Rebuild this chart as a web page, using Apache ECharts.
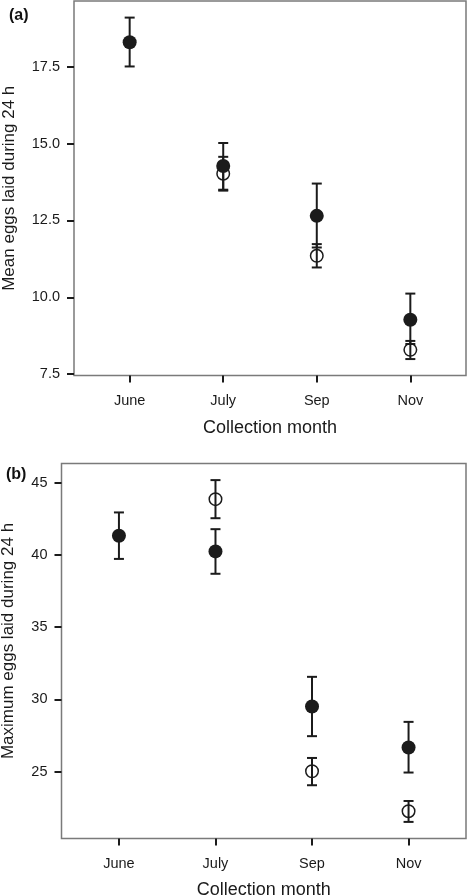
<!DOCTYPE html>
<html>
<head>
<meta charset="utf-8">
<script src="https://cdn.jsdelivr.net/npm/echarts@6/dist/echarts.min.js"></script>
<style>
html,body{margin:0;padding:0;background:#fff;}
#chart{width:467px;height:895px;}
</style>
</head>
<body>
<div id="chart"></div>
<script>
const categories = ['June', 'July', 'Sep', 'Nov'];
const catIndex = [0, 1, 2, 3];

// Panel (a): mean eggs laid during 24 h
const meanA_filled = [18.30, 14.27, 12.65, 9.27];
const lowA_filled  = [17.51, 13.50, 11.62, 8.48];
const highA_filled = [19.10, 15.02, 13.70, 10.12];
const meanA_open   = [null, 14.02, 11.35, 8.29];
const lowA_open    = [null, 13.47, 10.97, 7.99];
const highA_open   = [null, 14.57, 11.73, 8.58];
const yTicksA = [7.5, 10.0, 12.5, 15.0, 17.5];

// Panel (b): maximum eggs laid during 24 h
const meanB_filled = [41.33, 40.25, 29.50, 26.66];
const lowB_filled  = [39.73, 38.70, 27.45, 24.93];
const highB_filled = [42.95, 41.79, 31.56, 28.44];
const meanB_open   = [null, 43.87, 25.02, 22.25];
const lowB_open    = [null, 42.55, 24.05, 21.51];
const highB_open   = [null, 45.19, 25.94, 22.96];
const yTicksB = [25, 30, 35, 40, 45];

const INK = '#1b1b1b';
const TXT = '#1a1a1a';
const FONT = '"Liberation Sans", Arial, sans-serif';

function pts(mean) {
  return catIndex.map(i => mean[i] == null ? null : [i, mean[i]]).filter(d => d);
}
function bars(mean, low, high) {
  return catIndex.map(i => mean[i] == null ? null : [i, low[i], high[i]]).filter(d => d);
}
function errSeries(data, xi, yi) {
  return {
    type: 'custom', xAxisIndex: xi, yAxisIndex: yi, data: data, z: 3,
    renderItem: function (params, api) {
      const x = api.value(0);
      const lo = api.coord([x, api.value(1)]);
      const hi = api.coord([x, api.value(2)]);
      const w = 5;
      const st = { stroke: INK, lineWidth: 2 };
      return {
        type: 'group',
        children: [
          { type: 'line', shape: { x1: lo[0], y1: lo[1], x2: hi[0], y2: hi[1] }, style: st },
          { type: 'line', shape: { x1: lo[0] - w, y1: lo[1], x2: lo[0] + w, y2: lo[1] }, style: st },
          { type: 'line', shape: { x1: hi[0] - w, y1: hi[1], x2: hi[0] + w, y2: hi[1] }, style: st }
        ]
      };
    }
  };
}
function filledSeries(data, xi, yi) {
  return { type: 'scatter', xAxisIndex: xi, yAxisIndex: yi, data: data, symbol: 'circle', symbolSize: 14, z: 5,
    itemStyle: { color: INK, opacity: 1 } };
}
function openSeries(data, xi, yi) {
  return { type: 'scatter', xAxisIndex: xi, yAxisIndex: yi, data: data, symbol: 'circle', symbolSize: 12.5, z: 4,
    itemStyle: { color: 'rgba(0,0,0,0)', borderColor: INK, borderWidth: 1.5, opacity: 1 } };
}
function xAxis(gi, nameGap) {
  return {
    type: 'value', gridIndex: gi, min: -0.595, max: 3.595, position: 'bottom',
    splitLine: { show: false },
    axisLine: { show: false, onZero: false },
    axisTick: { show: true, customValues: catIndex, length: 7, lineStyle: { color: INK, width: 2 } },
    axisLabel: { customValues: catIndex, formatter: v => categories[Math.round(v)], margin: 18,
      fontSize: 14.5, color: TXT, fontFamily: FONT },
    name: 'Collection month', nameLocation: 'middle', nameGap: nameGap,
    nameTextStyle: { fontSize: 18, color: TXT, fontFamily: FONT }
  };
}
function yAxis(gi, min, max, ticks, name, nameGap, fmt, pad) {
  return {
    type: 'value', gridIndex: gi, min: min, max: max, position: 'left',
    splitLine: { show: false },
    axisLine: { show: false, onZero: false },
    axisTick: { show: true, customValues: ticks, length: 7, lineStyle: { color: INK, width: 2 } },
    axisLabel: { customValues: ticks, formatter: fmt, margin: 14, fontSize: 14.5, color: TXT, fontFamily: FONT },
    name: name, nameLocation: 'middle', nameGap: nameGap, nameRotate: 90,
    nameTextStyle: { fontSize: 17, color: TXT, fontFamily: FONT, padding: pad }
  };
}

const chart = echarts.init(document.getElementById('chart'), null, { renderer: 'canvas' });
chart.setOption({
  backgroundColor: '#fff',
  animation: false,
  title: [
    { text: '(a)', left: 4, top: 3, textStyle: { fontSize: 16, fontWeight: 'bold', color: '#111', fontFamily: FONT } },
    { text: '(b)', left: 1, top: 462, textStyle: { fontSize: 16, fontWeight: 'bold', color: '#111', fontFamily: FONT } }
  ],
  grid: [
    { left: 74, right: 1, top: 1, height: 374.5, show: true, borderColor: '#7a7a7a', borderWidth: 1.5,
      backgroundColor: 'transparent', containLabel: false, outerBoundsMode: 'none' },
    { left: 61.5, right: 1, top: 463.5, height: 375, show: true, borderColor: '#7a7a7a', borderWidth: 1.5,
      backgroundColor: 'transparent', containLabel: false, outerBoundsMode: 'none' }
  ],
  xAxis: [xAxis(0, 44), xAxis(1, 43)],
  yAxis: [
    yAxis(0, 7.455, 19.64, yTicksA, 'Mean eggs laid during 24 h', 56, v => v.toFixed(1), [0, 0, 0, 0]),
    yAxis(1, 20.36, 46.34, yTicksB, 'Maximum eggs laid during 24 h', 45, v => String(v), [0, 0, 0, 20])
  ],
  series: [
    errSeries(bars(meanA_open, lowA_open, highA_open), 0, 0),
    openSeries(pts(meanA_open), 0, 0),
    errSeries(bars(meanA_filled, lowA_filled, highA_filled), 0, 0),
    filledSeries(pts(meanA_filled), 0, 0),
    errSeries(bars(meanB_open, lowB_open, highB_open), 1, 1),
    openSeries(pts(meanB_open), 1, 1),
    errSeries(bars(meanB_filled, lowB_filled, highB_filled), 1, 1),
    filledSeries(pts(meanB_filled), 1, 1)
  ]
});
</script>
</body>
</html>
